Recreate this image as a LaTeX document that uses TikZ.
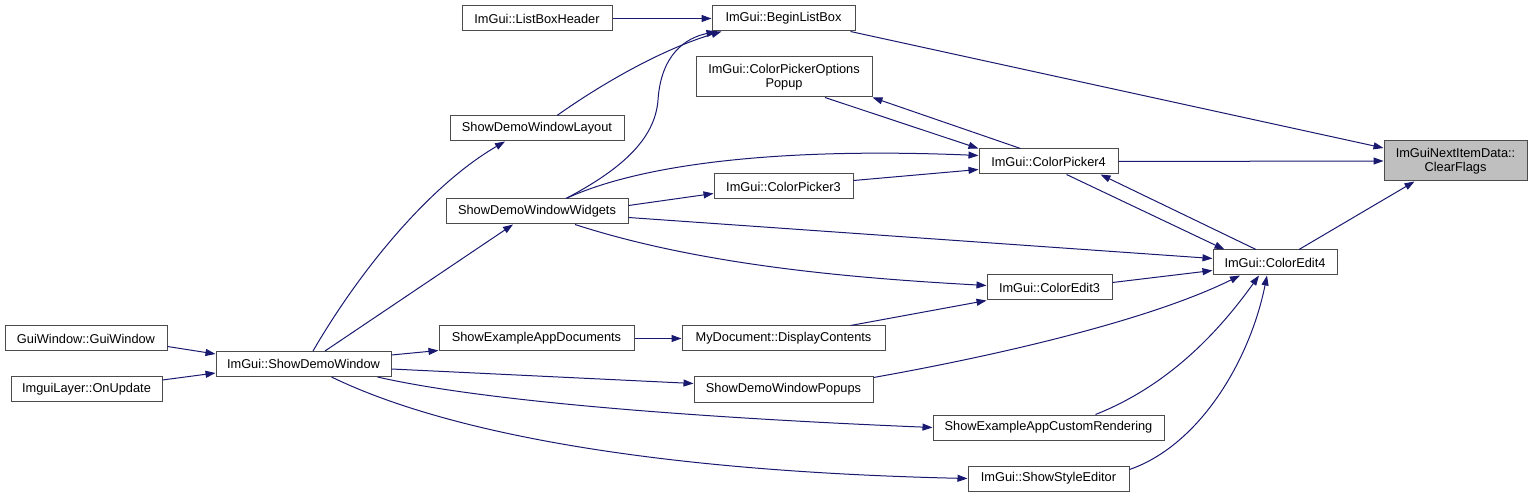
\documentclass[tikz,border=0pt]{standalone}
\usepackage{fontspec}
\setmainfont{Liberation Sans}
\usetikzlibrary{calc,arrows.meta}
\definecolor{edgeblue}{RGB}{25,25,112}
\definecolor{boxgray}{RGB}{191,191,191}
\begin{document}
\begin{tikzpicture}[x=0.5pt,y=-0.5pt,
  box/.style={draw=black!70, line width=0.5pt, fill=white, minimum height=12.5pt, inner sep=0pt,
    font=\fontsize{6.4}{7.2}\selectfont, align=center},
  tall/.style={minimum height=20pt},
  edge/.style={draw=edgeblue, line width=0.5pt, -{Triangle[length=5pt,width=3.5pt]}}
]
\useasboundingbox (0,0) rectangle (1532,497);
% nodes
\node[box,tall,fill=boxgray,minimum width=71.5pt] (CF) at (1455.5,161) {ImGuiNextItemData::\\ClearFlags};
\node[box,minimum width=71.5pt] (BLB) at (783.5,18.5) {ImGui::BeginListBox};
\node[box,minimum width=75pt] (LBH) at (537,18.5) {ImGui::ListBoxHeader};
\node[box,tall,minimum width=88pt] (CPOP) at (784,77) {ImGui::ColorPickerOptions\\Popup};
\node[box,minimum width=87pt] (SDWL) at (537,128.5) {ShowDemoWindowLayout};
\node[box,minimum width=69.5pt] (CP4) at (1048.5,161.5) {ImGui::ColorPicker4};
\node[box,minimum width=69.5pt] (CP3) at (783.5,186.5) {ImGui::ColorPicker3};
\node[box,minimum width=91pt] (SDWW) at (537,211.5) {ShowDemoWindowWidgets};
\node[box,minimum width=62pt] (CE4) at (1275,262.5) {ImGui::ColorEdit4};
\node[box,minimum width=62.5pt] (CE3) at (1049.5,287.5) {ImGui::ColorEdit3};
\node[box,minimum width=81pt] (GW) at (86,338.5) {GuiWindow::GuiWindow};
\node[box,minimum width=87.5pt] (SDW) at (303.5,364) {ImGui::ShowDemoWindow};
\node[box,minimum width=75.5pt] (OnUpdate) at (86.5,389) {ImguiLayer::OnUpdate};
\node[box,minimum width=97.5pt] (SEAD) at (536.5,338.5) {ShowExampleAppDocuments};
\node[box,minimum width=101.5pt] (MDDC) at (783.5,338.5) {MyDocument::DisplayContents};
\node[box,minimum width=89.5pt] (SDWP) at (783.5,389.5) {ShowDemoWindowPopups};
\node[box,minimum width=115.5pt] (SEACR) at (1048.5,427.5) {ShowExampleAppCustomRendering};
\node[box,minimum width=80.5pt] (SSE) at (1048.5,478.5) {ImGui::ShowStyleEditor};
% edges
\draw[edge] ($(BLB.south east)+(-5,0)$) -- ($(CF.west)+(0,-13)$);
\draw[edge] (CP4.east) -- (CF.west);
\draw[edge] ($(CE4.north)+(24,0)$) -- ($(CF.south)+(-41,0)$);
\draw[edge] (LBH.east) -- (BLB.west);
\draw[edge] ($(SDWL.north)+(20,0)$) .. controls (600,85) and (660,50) .. ($(BLB.south west)+(10,0)$);
\draw[edge] ($(SDWW.north)+(29,0)$) .. controls (620,170) and (655,140) .. (658,100)
   .. controls (661,55) and (685,38) .. ($(BLB.south west)+(5,0)$);
\draw[edge] ($(CP4.north)+(-28,0)$) -- (CPOP.south east);
\draw[edge] ($(CPOP.south)+(41,0)$) -- (CP4.north west);
\draw[edge] ($(SDWW.north)+(29,0)$) .. controls (650,160) and (800,148) .. ($(CP4.west)+(0,-6)$);
\draw[edge] ($(CP3.east)+(0,-6)$) -- ($(CP4.west)+(0,8)$);
\draw[edge] ($(SDWW.east)+(0,-6)$) -- ($(CP3.west)+(0,7)$);
\draw[edge] ($(CP4.south)+(18,0)$) -- ($(CE4.north west)+(12,0)$);
\draw[edge] ($(CE4.north)+(-19,0)$) -- ($(CP4.south east)+(-18,0)$);
\draw[edge] ($(SDWW.east)+(0,6)$) -- ($(CE4.west)+(0,-4)$);
\draw[edge] ($(SDWW.south)+(38,0)$) .. controls (700,265) and (850,278) .. ($(CE3.west)+(0,-2)$);
\draw[edge] ($(CE3.east)+(0,-5)$) -- ($(CE4.west)+(0,8)$);
\draw[edge] ($(MDDC.north)+(67,0)$) -- (CE3.south west);
\draw[edge] ($(SDWP.east)+(0,-12)$) .. controls (1000,355) and (1150,320) .. ($(CE4.south)+(-35,0)$);
\draw[edge] ($(SEACR.north)+(47,0)$) .. controls (1170,385) and (1220,330) .. ($(CE4.south)+(-16,0)$);
\draw[edge] ($(SSE.east)+(0,-9)$) .. controls (1200,445) and (1250,360) .. ($(CE4.south)+(-8,0)$);
\draw[edge] ($(SDW.north)+(9.5,0)$) .. controls (360,270) and (430,185) .. ($(SDWL.south)+(-32,0)$);
\draw[edge] ($(SDW.north)+(21.5,0)$) -- ($(SDWW.south)+(-24,0)$);
\draw[edge] ($(SDW.east)+(0,-9)$) -- ($(SEAD.west)+(0,12)$);
\draw[edge] (SEAD.east) -- (MDDC.west);
\draw[edge] ($(SDW.east)+(0,5)$) -- ($(SDWP.west)+(0,-6)$);
\draw[edge] ($(SDW.south east)+(-14,0)$) .. controls (500,405) and (750,420) .. (SEACR.west);
\draw[edge] ($(SDW.south)+(28,0)$) .. controls (420,420) and (600,470) .. (SSE.west);
\draw[edge] ($(GW.east)+(0,8)$) -- ($(SDW.west)+(0,-10)$);
\draw[edge] ($(OnUpdate.east)+(0,-9)$) -- ($(SDW.west)+(0,9)$);
\end{tikzpicture}
\end{document}
